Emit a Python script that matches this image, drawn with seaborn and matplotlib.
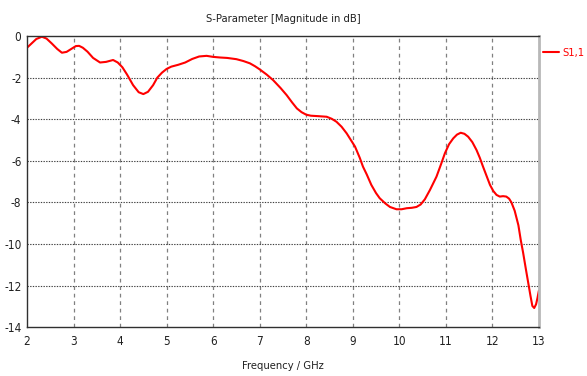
import matplotlib
matplotlib.use("Agg")
import matplotlib.pyplot as plt
import seaborn as sns
import pandas as pd

# S11 magnitude sweep
freq_ghz = [2.0, 2.1, 2.2, 2.32, 2.42, 2.53, 2.65, 2.75, 2.85, 2.95, 3.05, 3.12, 3.2, 3.3,
            3.42, 3.57, 3.7, 3.85, 3.95, 4.05, 4.15, 4.28, 4.4, 4.5, 4.6, 4.71, 4.8, 4.9,
            5.0, 5.1, 5.25, 5.4, 5.55, 5.7, 5.86, 6.0, 6.15, 6.3, 6.5, 6.65, 6.79, 6.9,
            7.0, 7.15, 7.29, 7.45, 7.58, 7.7, 7.8, 7.9, 8.0, 8.1, 8.25, 8.44, 8.55, 8.65,
            8.76, 8.87, 8.96, 9.05, 9.15, 9.22, 9.3, 9.4, 9.5, 9.58, 9.7, 9.8, 9.94, 10.05,
            10.16, 10.27, 10.37, 10.46, 10.55, 10.66, 10.73, 10.8, 10.9, 10.98, 11.07, 11.16,
            11.24, 11.32, 11.4, 11.48, 11.57, 11.66, 11.73, 11.8, 11.88, 11.95, 12.02, 12.09,
            12.16, 12.23, 12.3, 12.36, 12.41, 12.48, 12.56, 12.61, 12.66, 12.72, 12.77, 12.82,
            12.86, 12.9, 12.94, 12.97, 13.0]
s11_db = [-0.56, -0.35, -0.14, -0.03, -0.12, -0.35, -0.62, -0.8, -0.76, -0.62, -0.48, -0.47,
          -0.56, -0.75, -1.05, -1.27, -1.24, -1.15, -1.27, -1.5, -1.85, -2.36, -2.7, -2.79,
          -2.68, -2.36, -2.0, -1.76, -1.58, -1.47, -1.38, -1.27, -1.1, -0.98, -0.95, -1.0,
          -1.03, -1.05, -1.11, -1.2, -1.31, -1.45, -1.6, -1.85, -2.12, -2.5, -2.84, -3.2,
          -3.48, -3.66, -3.78, -3.83, -3.85, -3.88, -3.98, -4.12, -4.36, -4.68, -5.0, -5.32,
          -5.85, -6.28, -6.65, -7.16, -7.55, -7.8, -8.05, -8.22, -8.33, -8.33, -8.28, -8.26,
          -8.22, -8.1, -7.85, -7.4, -7.08, -6.76, -6.15, -5.64, -5.2, -4.92, -4.74, -4.65,
          -4.7, -4.84, -5.1, -5.48, -5.85, -6.28, -6.75, -7.16, -7.45, -7.64, -7.72, -7.7,
          -7.72, -7.82, -8.0, -8.4, -9.1, -9.8, -10.4, -11.2, -11.85, -12.5, -12.98, -13.08,
          -12.9, -12.6, -12.25]

x_ticks = [2, 3, 4, 5, 6, 7, 8, 9, 10, 11, 12, 13]
y_ticks = [0, -2, -4, -6, -8, -10, -12, -14]

sns.set_style("white")
plt.rcParams["font.family"] = ["DejaVu Sans"]
plt.rcParams["font.stretch"] = "condensed"

df = pd.DataFrame({"Frequency / GHz": freq_ghz, "S1,1": s11_db})

fig = plt.figure(figsize=(5.87, 3.76), dpi=100)
ax = fig.add_axes([0.046, 0.130, 0.872, 0.774])

sns.lineplot(data=df, x="Frequency / GHz", y="S1,1", ax=ax, color="#ff0000",
             linewidth=1.5, label="S1,1", sort=False)

ax.set_xlim(2, 13)
ax.set_ylim(-14, 0)
ax.set_xticks(x_ticks)
ax.set_yticks(y_ticks)
ax.set_xticklabels([str(t) for t in x_ticks])
ax.set_yticklabels([str(t) for t in y_ticks])

# grid: dashed grey verticals, dotted dark horizontals
for t in x_ticks[1:-1]:
    ax.axvline(t, color="#808080", linestyle=(0, (3, 3)), linewidth=0.9, zorder=0)
for t in y_ticks[1:-1]:
    ax.axhline(t, color="#404040", linestyle=(0, (1.2, 1.2)), linewidth=0.8, zorder=0)

for side in ["top", "left", "bottom"]:
    ax.spines[side].set_color("#303030")
    ax.spines[side].set_linewidth(1.0)
ax.spines["right"].set_color("#b8b8b8")
ax.spines["right"].set_linewidth(2.0)

ax.tick_params(axis="both", direction="inout", length=4, width=0.8, color="#303030",
               labelsize=8.5, labelcolor="#202020", pad=4)
ax.tick_params(axis="y", pad=2)

ax.set_title("S-Parameter [Magnitude in dB]", fontsize=8, color="#202020", pad=10)
ax.set_xlabel("Frequency / GHz", fontsize=8, color="#202020", labelpad=9)
ax.set_ylabel("")

leg = ax.legend(loc="upper left", bbox_to_anchor=(1.0, 0.975), frameon=False,
                handlelength=1.4, handletextpad=0.3, fontsize=8, labelcolor="#ff0000",
                borderaxespad=0.2, borderpad=0.2)

fig.savefig("out.png", dpi=100)
